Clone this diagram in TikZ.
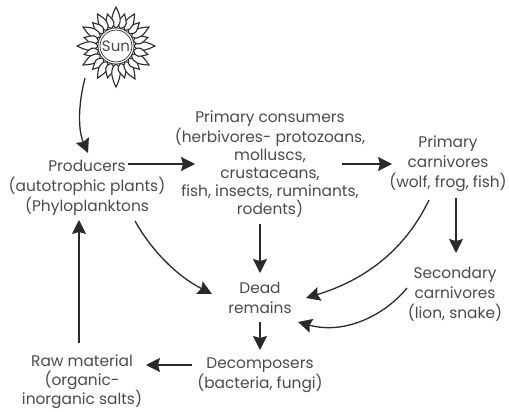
\documentclass[tikz,border=0pt]{standalone}
\usepackage{fontspec}
\setmainfont{Poppins}
\usetikzlibrary{arrows.meta,calc}
\definecolor{inkgrey}{HTML}{4A4A4A}
\definecolor{linegrey}{HTML}{2A2A2A}
\begin{document}
\begin{tikzpicture}[x=1pt,y=-1pt,
  every node/.style={font=\fontsize{15.4}{20}\selectfont,text=inkgrey,align=center,inner sep=0pt},
  flow/.style={draw=linegrey,line width=1.3pt,-{Stealth[length=14pt,width=14pt,inset=2pt]}},
  flame/.style={draw=linegrey,line width=1.1pt,fill=white}]
\useasboundingbox (0,0) rectangle (509,412);
\foreach \a/\r in {0/39,15/33,30/38,45/33,60/37,75/33,90/39,105/33,120/37,135/33,150/38,165/33,180/39,195/33,210/38,225/33,240/37,255/33,270/41,285/33,300/38,315/33,330/38,345/33} {
  \draw[flame,shift={(116,46)},rotate=\a] (18,0) .. controls (23,-7) and (\r-8,-4) .. (\r,0) .. controls (\r-8,4) and (23,7) .. (18,0);
}
\node[circle,draw=linegrey,double=white,double distance=1.2pt,line width=0.8pt,minimum size=34pt,font=\fontsize{15}{15}\selectfont] (sun) at (116,46) {Sun};
\node (producers) at (87,188) {Producers\\(autotrophic plants)\\(Phyloplanktons};
\node[font=\fontsize{15.4}{18}\selectfont] (consumers) at (270,164) {Primary consumers\\(herbivores- protozoans,\\molluscs,\\crustaceans,\\fish, insects, ruminants,\\rodents)};
\node (primary) at (448,164) {Primary\\carnivores\\(wolf, frog, fish)};
\node (secondary) at (455,294) {Secondary\\carnivores\\(lion, snake)};
\node (dead) at (260,298) {Dead\\remains};
\node (decomposers) at (260,375) {Decomposers\\(bacteria, fungi)};
\node[font=\fontsize{15.4}{19}\selectfont] (raw) at (82,382) {Raw material\\(organic-\\inorganic salts)};
\draw[flow] ($(sun)+(-31,32)$) .. controls (78,105) and (78,130) .. ($(producers)+(1,-35)$);
\draw[flow] ($(producers)+(41,-24)$) -- ($(consumers)+(-75,0)$);
\draw[flow] ($(consumers)+(72,0)$) -- ($(primary)+(-56,0)$);
\draw[flow] ($(primary)+(8,34)$) -- ($(secondary)+(1,-41)$);
\draw[flow] ($(consumers)+(-10,60)$) -- ($(dead)+(0,-25)$);
\draw[flow] ($(dead)+(0,24)$) -- ($(decomposers)+(0,-25)$);
\draw[flow] ($(decomposers)+(-68,-10)$) -- ($(raw)+(64,-17)$);
\draw[flow] ($(raw)+(-3,-39)$) -- ($(producers)+(-8,32)$);
\draw[flow] ($(producers)+(48,33)$) .. controls (150,248) and (175,275) .. ($(dead)+(-48,-4)$);
\draw[flow] ($(primary)+(-19,36)$) .. controls (405,250) and (365,280) .. ($(dead)+(46,0)$);
\draw[flow] ($(secondary)+(-48,-6)$) .. controls (385,315) and (345,335) .. ($(dead)+(38,24)$);
\end{tikzpicture}
\end{document}
